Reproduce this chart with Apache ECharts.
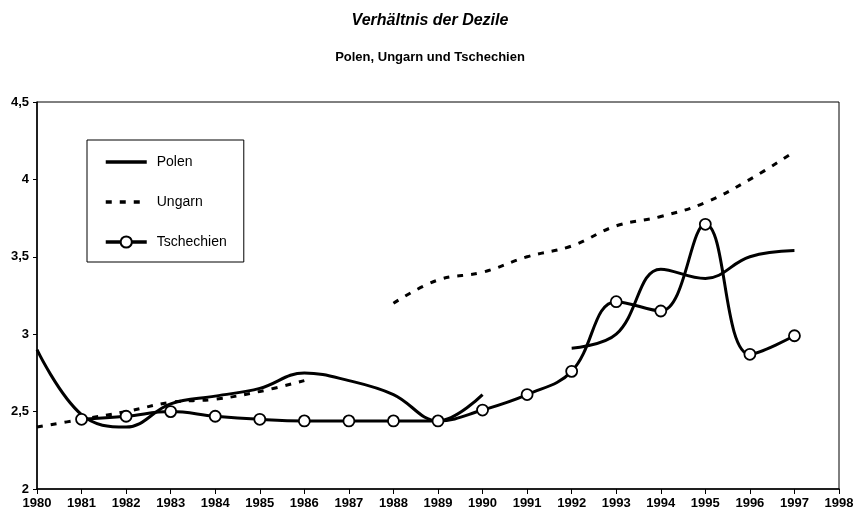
<!DOCTYPE html>
<html>
<head>
<meta charset="utf-8">
<script src="https://cdn.jsdelivr.net/npm/echarts@6/dist/echarts.min.js"></script>
<style>
  html, body { margin: 0; padding: 0; background: #fff; }
  #chart { width: 860px; height: 518px; }
</style>
</head>
<body>
<div id="chart"></div>
<script>
// Jahre (x-Achse)
const years = ['1980', '1981', '1982', '1983', '1984', '1985', '1986', '1987', '1988', '1989',
  '1990', '1991', '1992', '1993', '1994', '1995', '1996', '1997', '1998']

// Verhältnis der Dezile
const polen = [2.90, 2.48, 2.40, 2.55, 2.60, 2.65, 2.75, 2.70, 2.61, 2.44,
  2.61, null, 2.91, 3.00, 3.42, 3.36, 3.50, 3.54, null]
const ungarn = [2.40, 2.45, 2.50, 2.56, 2.58, 2.63, 2.70, null, 3.20, 3.35,
  3.40, 3.50, 3.57, 3.70, 3.76, 3.85, 4.00, 4.18, null]
const tschechien = [null, 2.45, 2.47, 2.50, 2.47, 2.45, 2.44, 2.44, 2.44, 2.44,
  2.51, 2.61, 2.76, 3.21, 3.15, 3.71, 2.87, 2.99, null]

const font = '"Liberation Sans", Arial, sans-serif'
const chart = echarts.init(document.getElementById('chart'))

chart.setOption({
  animation: false,
  backgroundColor: '#fff',
  title: [
    {
      text: 'Verhältnis der Dezile',
      left: 'center',
      top: 8,
      textStyle: { fontFamily: font, fontSize: 16, fontWeight: 'bold', fontStyle: 'italic', color: '#000' }
    },
    {
      text: 'Polen, Ungarn und Tschechien',
      left: 'center',
      top: 46,
      textStyle: { fontFamily: font, fontSize: 13, fontWeight: 'bold', color: '#000' }
    }
  ],
  legend: {
    orient: 'vertical',
    left: 87,
    top: 140,
    padding: [15, 17, 13, 17],
    itemGap: 26,
    itemWidth: 41,
    itemHeight: 14,
    borderColor: '#000',
    borderWidth: 1,
    lineStyle: { width: 3.5 },
    textStyle: { fontFamily: font, fontSize: 14, color: '#000', padding: [0, 0, 0, 5] },
    data: [
      { name: 'Polen', itemStyle: { opacity: 0 } },
      { name: 'Ungarn', itemStyle: { opacity: 0 } },
      { name: 'Tschechien' }
    ]
  },
  grid: { left: 37, right: 21, top: 102, bottom: 29, show: true, borderColor: '#000', borderWidth: 1 },
  xAxis: {
    type: 'category',
    data: years,
    boundaryGap: false,
    axisLine: { lineStyle: { color: '#000', width: 1.5 } },
    axisTick: { lineStyle: { color: '#000' }, length: 5 },
    axisLabel: { fontFamily: font, fontSize: 13, fontWeight: 'bold', color: '#000', margin: 8 },
    splitLine: { show: false }
  },
  yAxis: {
    type: 'value',
    min: 2,
    max: 4.5,
    interval: 0.5,
    axisLine: { show: true, lineStyle: { color: '#000', width: 1.5 } },
    axisTick: { show: true, lineStyle: { color: '#000' }, length: 4 },
    axisLabel: {
      fontFamily: font, fontSize: 13, fontWeight: 'bold', color: '#000', margin: 8,
      formatter: v => String(v).replace('.', ',')
    },
    splitLine: { show: false }
  },
  series: [
    {
      name: 'Polen',
      type: 'line',
      data: polen,
      smooth: 0.4,
      showSymbol: false,
      symbol: 'none',
      color: '#000',
      lineStyle: { color: '#000', width: 3 }
    },
    {
      name: 'Ungarn',
      type: 'line',
      data: ungarn,
      smooth: 0.4,
      showSymbol: false,
      symbol: 'none',
      color: '#000',
      lineStyle: { color: '#000', width: 3, type: [6, 8] }
    },
    {
      name: 'Tschechien',
      type: 'line',
      data: tschechien,
      smooth: 0.4,
      symbol: 'circle',
      symbolSize: 11,
      color: '#000',
      itemStyle: { color: '#fff', borderColor: '#000', borderWidth: 1.8 },
      lineStyle: { color: '#000', width: 3 }
    }
  ]
})
</script>
</body>
</html>
